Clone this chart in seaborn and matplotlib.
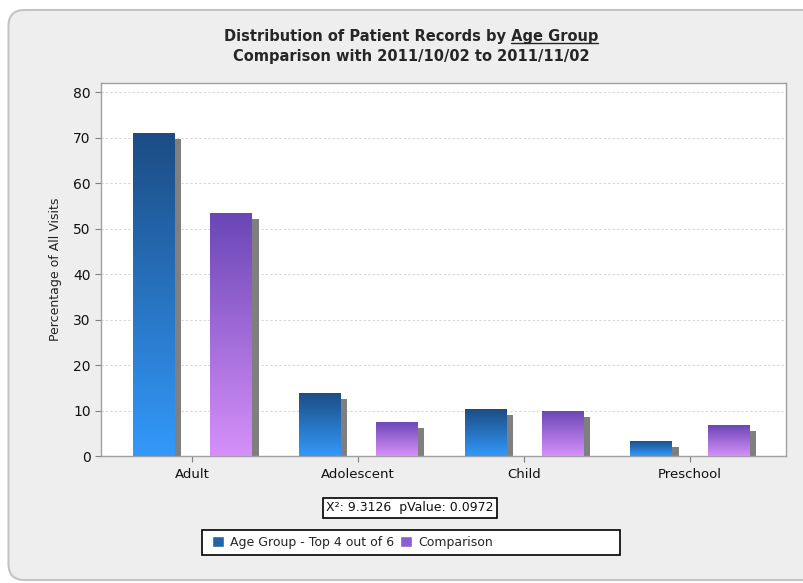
import numpy as np
import pandas as pd
import matplotlib
matplotlib.use("Agg")
import matplotlib.pyplot as plt
import seaborn as sns
import matplotlib.transforms as mtrans
from matplotlib.patches import FancyBboxPatch, Rectangle
from matplotlib.colors import LinearSegmentedColormap
from matplotlib.lines import Line2D

# ---------------- data ----------------
categories = ["Adult", "Adolescent", "Child", "Preschool"]
series_names = ["Age Group - Top 4 out of 6", "Comparison"]
age_group = [71.1, 13.9, 10.3, 3.3]
comparison = [53.5, 7.5, 10.0, 6.8]
y_ticks = [0, 10, 20, 30, 40, 50, 60, 70, 80]
title_line1 = "Distribution of Patient Records by Age Group"
title_underlined = "Age Group"
title_line2 = "Comparison with 2011/10/02 to 2011/11/02"
y_label = "Percentage of All Visits"
stats_text = "X²: 9.3126  pValue: 0.0972"

df = pd.DataFrame({
    "Category": categories * 2,
    "Series": [series_names[0]] * len(categories) + [series_names[1]] * len(categories),
    "Value": age_group + comparison,
})

# ---------------- style ----------------
sns.set_theme(style="white")
plt.rcParams['font.family'] = ['DejaVu Sans']

W, H = 804, 583
fig = plt.figure(figsize=(W / 100, H / 100), dpi=100, facecolor="white")

# rounded background panel
panel = FancyBboxPatch((0.085, 0.03), 8.4, 5.70,
                       boxstyle="round,pad=0,rounding_size=0.16",
                       transform=fig.dpi_scale_trans, fc="#EEEEEE",
                       ec="#C4C4C4", lw=1.5, zorder=-2)
fig.patches.append(panel)

ax = fig.add_axes([101 / W, 1 - 456 / H, (786 - 101) / W, (456 - 83) / H])
ax.set_facecolor("white")

blue_mid = "#2563A8"
purple_mid = "#8A5ED2"
sns.barplot(data=df, x="Category", y="Value", hue="Series",
            palette=[blue_mid, purple_mid], width=0.93, gap=0.46,
            saturation=1, ax=ax, legend=True, zorder=3)

cmaps = [
    LinearSegmentedColormap.from_list("b", ["#3399FA", "#1C4C84"]),
    LinearSegmentedColormap.from_list("p", ["#D690FA", "#6A46B6"]),
]
grad = np.linspace(1, 0, 256).reshape(-1, 1)
shadow_tr = ax.transData + mtrans.ScaledTranslation(7 / 100, -6 / 100, fig.dpi_scale_trans)

for cont, cm in zip(ax.containers, cmaps):
    for bar in cont:
        x, y = bar.get_x(), bar.get_y()
        w, h = bar.get_width(), bar.get_height()
        sh = Rectangle((x, y), w, h, transform=shadow_tr, fc="#7F7F7F",
                       ec="none", zorder=2.5)
        ax.add_patch(sh)
        sh.set_clip_box(ax.bbox)
        im = ax.imshow(grad, extent=[x, x + w, y, y + h], cmap=cm,
                       aspect="auto", zorder=3, interpolation="bilinear")
        im.set_clip_path(bar)
        bar.set_facecolor("none")
        bar.set_edgecolor("none")

ax.set_xlim(-0.55, 3.58)
ax.set_ylim(0, 82)
ax.set_yticks(y_ticks)
ax.set_xlabel("")
ax.set_ylabel(y_label, fontsize=9, color="#222222", labelpad=8)
ax.yaxis.grid(True, linestyle=(0, (2, 2)), color="#D6D6D6", lw=0.8, zorder=0)
ax.set_axisbelow(True)
for s in ax.spines.values():
    s.set_color("#A0A0A0")
    s.set_linewidth(1.0)
ax.tick_params(axis="both", direction="out", length=4, width=0.8,
               color="#808080", labelsize=10, labelcolor="#111111",
               bottom=True, left=True)
ax.tick_params(axis="x", pad=5)
for lab in ax.get_xticklabels():
    lab.set_fontsize(9.5)

# legend
leg_box = Rectangle((202 / W, 1 - 555 / H), (620 - 202) / W, 25 / H,
                    transform=fig.transFigure, fc="white", ec="black", lw=1.2,
                    zorder=-1)
fig.patches.append(leg_box)
sns.move_legend(ax, loc="center left", bbox_to_anchor=(203 / W, 1 - 542.5 / H),
                bbox_transform=fig.transFigure, ncol=2, frameon=False,
                title=None, fontsize=9, handlelength=0.95, handleheight=0.95,
                columnspacing=0.5, handletextpad=0.5, borderpad=0.2)

# stats box
fig.text(410 / W, 1 - 508 / H, stats_text, ha="center", va="center",
         fontsize=9, color="#111111",
         bbox=dict(boxstyle="square,pad=0.25", fc="white", ec="black", lw=1.2))

# title
t1 = fig.text(411 / W, 1 - 36 / H, title_line1, ha="center", va="center",
              fontsize=10.5, fontweight="bold", color="#262626")
fig.text(411 / W, 1 - 57 / H, title_line2, ha="center", va="center",
         fontsize=10.5, fontweight="bold", color="#262626")

fig.canvas.draw()
r = fig.canvas.get_renderer()
bb = t1.get_window_extent(r)
tmp = fig.text(0, 0, title_underlined, fontsize=10.5, fontweight="bold")
wa = tmp.get_window_extent(r).width
tmp.remove()
uy = bb.y0 + 1
fig.lines.append(Line2D([(bb.x1 - wa) / W, bb.x1 / W], [uy / H, uy / H],
                        transform=fig.transFigure, color="#262626", lw=1.0))

fig.savefig("out.png", dpi=100, facecolor=fig.get_facecolor())
